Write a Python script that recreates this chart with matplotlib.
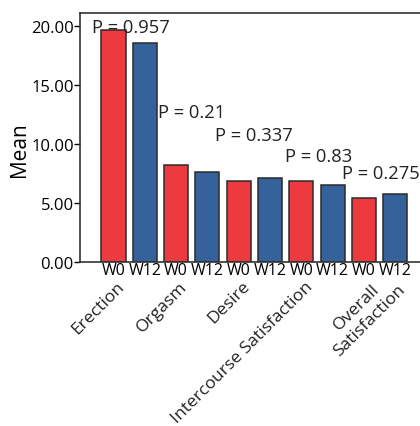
import numpy as np
import matplotlib.pyplot as plt

plt.rcParams['font.family'] = ['Open Sans', 'DejaVu Sans']

domains = ['Erection', 'Orgasm', 'Desire', 'Intercourse Satisfaction', 'Overall\nSatisfaction']
visits = ['W0', 'W12']
w0_mean = [19.66, 8.22, 6.81, 6.81, 5.42]
w12_mean = [18.50, 7.58, 7.07, 6.47, 5.71]
p_values = ['0.957', '0.21', '0.337', '0.83', '0.275']
p_pos = [(-0.70, 19.9), (1.43, 12.66), (3.24, 10.74), (5.48, 8.98), (7.29, 7.52)]

red = '#EC3A3E'
blue = '#35629A'

fig = plt.figure(figsize=(4.2, 4.27), dpi=100)
# axes run a little past the right edge so no right border shows
ax = fig.add_axes([0.1905, 0.385, 0.84, 0.582])

means = np.ravel(np.column_stack([w0_mean, w12_mean]))
colors = [red, blue] * len(domains)
x = np.arange(len(means))
ax.bar(x, means, width=0.77, color=colors, edgecolor='#2b2b2b', linewidth=1.1, zorder=2)

for (px, py), p in zip(p_pos, p_values):
    ax.text(px, py, 'P = ' + p, fontsize=13.2, ha='left', va='center', color='#222222')

ax.set_xlim(-1.07, -1.07 + 0.84 * 420 / 31.3)
ax.set_ylim(0, 21.07)
ax.set_yticks([0, 5, 10, 15, 20])
ax.set_yticklabels(['%.2f' % v for v in [0, 5, 10, 15, 20]], fontsize=12)
ax.set_ylabel('Mean', fontsize=15)
ax.yaxis.set_label_coords(-0.143, 0.456)

ax.set_xticks(x)
ax.set_xticklabels(visits * len(domains), fontsize=11.5)
ax.tick_params(axis='x', length=0, pad=0.5)
ax.tick_params(axis='y', length=4, width=1, pad=0.5)

# domain names under each W0/W12 pair
centers = np.arange(len(domains)) * 2 + 0.5
for cx, name in zip(centers, domains):
    if '\n' in name:
        tx, ty = cx + 0.15, -0.025
    else:
        tx, ty = cx - 0.4, -0.065
    ax.text(tx, ty, name, transform=ax.get_xaxis_transform(),
            rotation=45, rotation_mode='anchor', ha='right', va='top',
            multialignment='center', fontsize=12.6, color='#222222')

ax.spines['right'].set_visible(False)
for s in ['left', 'top', 'bottom']:
    ax.spines[s].set_linewidth(1.2)
    ax.spines[s].set_color('#333333')

fig.savefig('out.png', dpi=100)
